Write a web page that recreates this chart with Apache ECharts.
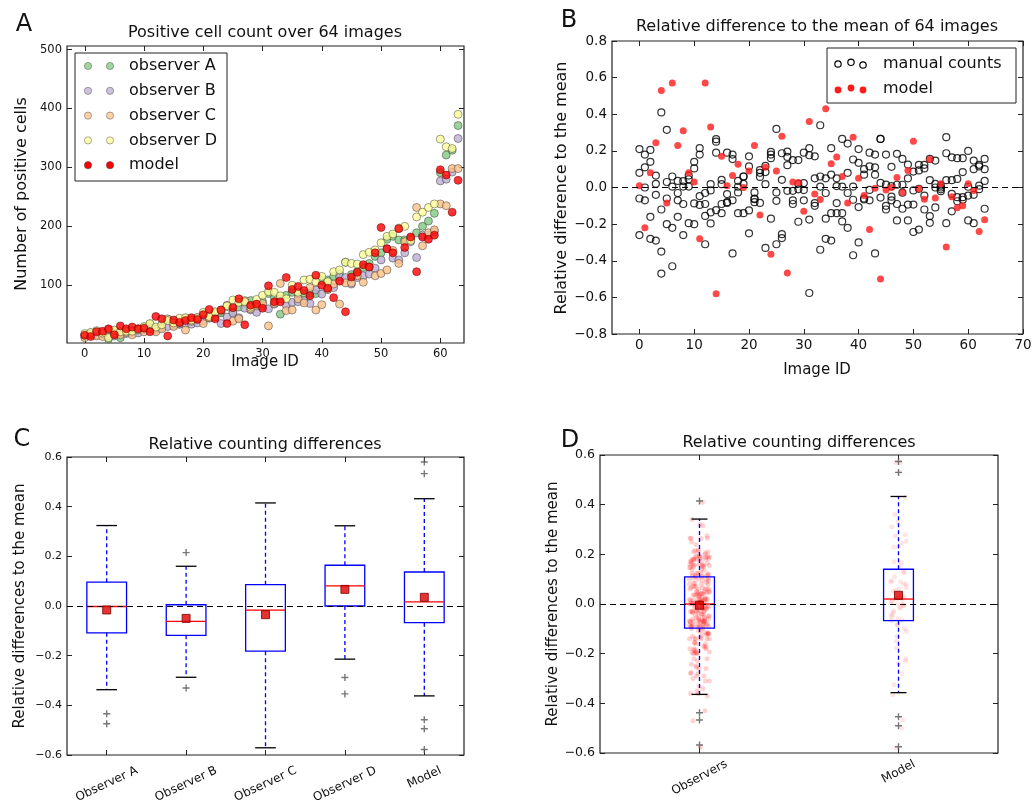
<!DOCTYPE html>
<html><head><meta charset="utf-8">
<script src="https://cdn.jsdelivr.net/npm/echarts@6/dist/echarts.min.js"></script>
<style>html,body{margin:0;padding:0;background:#fff}#chart{width:1036px;height:801px}</style>
</head><body><div id="chart"></div>
<script>
// ---------- Panel A: positive cell counts per image (image ID = index) ----------
const countObsA = [16,19,22,18,9,19,11,20,23,26, 29,34,27,31,42,36,34,44,40,43, 51,45,53,53,64,55,63,70,74,67, 72,86,79,51,83,88,85,86,86,86, 108,109,115,119,139,118,123,130,137,149, 155,178,183,177,177,178,189,200,209,222, 291,321,329,371];
const countObsB = [14,17,16,17,15,14,20,18,20,19, 24,28,25,28,30,32,34,35,34,36, 40,44,46,35,46,53,45,61,58,54, 65,60,68,77,66,71,72,74,69,92, 85,93,96,114,113,102,113,116,119,129, 143,162,146,143,155,174,147,185,185,191, 277,280,292,349];
const countObsC = [11,16,14,13,24,17,16,20,16,24, 21,26,21,26,43,30,36,24,39,45, 35,45,54,56,66,39,43,74,60,65, 69,31,69,103,57,58,77,70,96,58, 67,93,102,68,104,104,116,105,131,116, 120,126,159,137,174,180,232,167,189,194, 238,235,298,298];
const countObsD = [18,20,23,19,11,24,21,22,22,25, 30,35,29,33,40,36,44,45,41,45, 54,47,55,58,65,75,71,72,63,76, 83,89,88,82,77,100,88,109,110,106, 115,106,123,126,139,137,136,152,156,160, 172,183,187,197,200,176,216,224,232,238, 348,335,332,390];
const countModel = [15,13,21,22,26,16,31,26,29,26, 27,21,47,43,14,41,37,40,45,42, 50,59,43,58,35,62,77,33,66,68, 61,99,72,72,113,93,98,91,82,117, 100,95,79,107,55,114,122,135,131,155, 198,162,155,196,164,182,123,182,178,185, 296,287,224,278];

// ---------- Panel B: relative difference to the mean ----------
const relObsA = [0.08,0.11,0.14,0.02,-0.47,0.03,-0.43,-0.03,0.035,0.065, 0.104,0.18,-0.09,-0.016,0.25,0.018,-0.08,0.155,0.004,0.02, 0.115,-0.06,0.058,0.018,0.16,-0.027,0.042,0.122,0.15,0.02, 0.024,0.176,0.05,-0.34,0.05,0.07,0.008,0.005,-0.03,-0.067, 0.135,0.1,0.115,0.11,0.265,0.016,0.007,0.015,0.015,0.05, -0.016,0.093,0.104,0.04,0.02,0.0,0.04,0.04,0.047,0.084, 0.004,0.1,0.115,0.1];
const relObsB = [-0.06,0.0,-0.16,-0.04,-0.12,-0.2,0.005,-0.16,-0.09,-0.195, -0.087,-0.047,-0.155,-0.136,-0.124,-0.09,-0.084,-0.07,-0.14,-0.14, -0.125,-0.08,-0.084,-0.33,-0.17,-0.073,-0.255,-0.018,-0.09,-0.187, -0.07,-0.175,-0.1,0.005,-0.17,-0.14,-0.14,-0.14,-0.22,0.005, -0.107,-0.065,-0.07,0.07,0.025,-0.12,-0.07,-0.09,-0.116,-0.093, -0.093,-0.007,-0.12,-0.156,-0.109,-0.02,-0.195,-0.035,-0.075,-0.067, -0.044,-0.04,-0.009,0.036];
const relObsC = [-0.26,-0.07,-0.28,-0.29,0.41,-0.06,-0.22,-0.07,-0.26,0.005, -0.2,-0.095,-0.31,-0.196,0.264,-0.14,-0.036,-0.36,-0.027,0.06, -0.25,-0.064,0.08,0.084,0.195,-0.31,-0.276,0.196,-0.07,-0.01, -0.014,-0.576,-0.085,0.34,-0.28,-0.29,-0.085,-0.185,0.08,-0.37, -0.3,-0.06,-0.013,-0.36,-0.055,-0.1,-0.05,-0.18,-0.028,-0.18, -0.243,-0.23,-0.044,-0.193,0.0,0.01,0.275,-0.13,-0.053,-0.053, -0.18,-0.195,0.01,-0.116];
const relObsD = [0.21,0.18,0.205,0.065,-0.35,0.315,0.06,0.036,0.005,0.045, 0.14,0.215,-0.03,0.018,0.19,0.042,0.19,0.18,0.036,0.06, 0.17,-0.027,0.095,0.118,0.18,0.32,0.187,0.167,-0.018,0.15, 0.19,0.215,0.17,0.06,-0.03,0.215,0.05,0.265,0.24,0.153, 0.21,0.07,0.19,0.18,0.265,0.18,0.113,0.184,0.156,0.125, 0.087,0.124,0.124,0.156,0.147,-0.01,0.187,0.165,0.16,0.16, 0.2,0.147,0.124,0.156];
const relModel = [0.01,-0.22,0.08,0.245,0.53,-0.085,0.57,0.23,0.31,0.08, 0.03,-0.28,0.57,0.33,-0.58,0.17,0.01,0.065,0.127,0.0, 0.09,0.23,-0.15,0.11,-0.365,0.09,0.28,-0.467,0.03,0.027, -0.13,0.36,-0.035,-0.065,0.43,0.13,0.167,0.06,-0.084,0.275, 0.05,-0.044,-0.23,-0.004,-0.5,-0.013,0.0,0.055,-0.027,0.093, 0.253,-0.007,-0.064,0.153,-0.058,0.02,-0.325,-0.05,-0.11,-0.1, 0.02,-0.016,-0.24,-0.176];

// ---------- Panel C: box statistics [low whisker, Q1, median, Q3, high whisker] ----------
const boxNamesC = ['Observer A','Observer B','Observer C','Observer D','Model'];
const boxStatsC = [[-0.337,-0.108,-0.002,0.096,0.324],[-0.287,-0.118,-0.062,0.005,0.160],[-0.571,-0.182,-0.017,0.086,0.415],[-0.214,0.0,0.081,0.164,0.323],[-0.362,-0.067,0.017,0.137,0.432]];
const meansC = [-0.016,-0.05,-0.035,0.067,0.035];
const outliersC = [[1,-0.434],[1,-0.474],[2,0.215],[2,-0.33],[4,-0.288],[4,-0.354],[5,0.58],[5,0.533],[5,-0.458],[5,-0.494],[5,-0.578]];

// ---------- Panel D ----------
const boxNamesD = ['Observers','Model'];
const boxStatsD = [[-0.364,-0.097,0.0,0.109,0.342],[-0.357,-0.067,0.02,0.14,0.433]];
const meansD = [-0.005,0.035];
const outliersD = [[1,0.415],[1,-0.438],[1,-0.467],[1,-0.568],[2,0.574],[2,0.53],[2,-0.454],[2,-0.49],[2,-0.575]];

// tick values
const ticksAx = [0,10,20,30,40,50,60];
const ticksAy = [100,200,300,400,500];
const ticksBx = [0,10,20,30,40,50,60,70];
const ticksBy = [-0.8,-0.6,-0.4,-0.2,0,0.2,0.4,0.6,0.8];
const ticksCy = [-0.6,-0.4,-0.2,0,0.2,0.4,0.6];

const FONT = 'DejaVu Sans';
const minus = s => String(s).replace('-', '\u2212');
const chart = echarts.init(document.getElementById('chart'), null, {renderer: 'canvas'});

function axis(gridIndex, min, max, ticks, o) {
  o = o || {};
  return {
    type: 'value', gridIndex, min, max, position: o.position,
    axisLine: {show: false, onZero: false},
    splitLine: {show: false},
    axisTick: {show: true, inside: true, length: 5, customValues: ticks, lineStyle: {color: '#222', width: 1}},
    axisLabel: {show: !!o.label, customValues: ticks, fontFamily: FONT, fontSize: o.fs || 12, color: '#111', margin: o.margin || 5,
      formatter: o.fmt || (v => minus(v))}
  };
}
const fmt1 = v => minus(Number(v).toFixed(1));

const xAxes = [
  axis(0, -3, 64, ticksAx, {label: true, fs: 11.5, margin: 5}),
  axis(0, -3, 64, ticksAx, {position: 'top'}),
  axis(1, -5, 70, ticksBx, {label: true, fs: 13.5, margin: 4}),
  axis(1, -5, 70, ticksBx, {position: 'top'}),
  axis(2, 0.5, 5.5, [1,2,3,4,5], {}),
  axis(2, 0.5, 5.5, [1,2,3,4,5], {position: 'top'}),
  axis(3, 0.5, 2.5, [1,2], {}),
  axis(3, 0.5, 2.5, [1,2], {position: 'top'})
];
const yAxes = [
  axis(0, 2, 506, ticksAy, {label: true, fs: 11.5}),
  axis(0, 2, 506, ticksAy, {position: 'right'}),
  axis(1, -0.8, 0.8, ticksBy, {label: true, fs: 13.5, fmt: fmt1}),
  axis(1, -0.8, 0.8, ticksBy, {position: 'right'}),
  axis(2, -0.6, 0.6, ticksCy, {label: true, fs: 11, fmt: fmt1}),
  axis(2, -0.6, 0.6, ticksCy, {position: 'right'}),
  axis(3, -0.6, 0.6, ticksCy, {label: true, fs: 12.5, fmt: fmt1}),
  axis(3, -0.6, 0.6, ticksCy, {position: 'right'})
];

const gridStyle = {show: true, borderColor: '#222', borderWidth: 1.2, backgroundColor: '#fff'};
const grids = [
  Object.assign({left: 67, top: 46, width: 397, height: 297}, gridStyle),
  Object.assign({left: 612, top: 41, width: 411, height: 293}, gridStyle),
  Object.assign({left: 67, top: 457, width: 397, height: 298}, gridStyle),
  Object.assign({left: 600, top: 455, width: 398, height: 298}, gridStyle)
];

const zeroLine = {silent: true, symbol: 'none', label: {show: false}, lineStyle: {color: '#000', type: [6, 4], width: 1.2}, data: [{yAxis: 0}], animation: false};
const plusSym = 'path://M4,0H6V4H10V6H6V10H4V6H0V4H4Z';

function boxRenderer(halfW, capHalf) {
  return function (params, api) {
    const x = api.value(0);
    const lo = api.coord([x, api.value(1)]), q1 = api.coord([x, api.value(2)]), md = api.coord([x, api.value(3)]);
    const q3 = api.coord([x, api.value(4)]), hi = api.coord([x, api.value(5)]);
    const left = api.coord([x - halfW, 0])[0], right = api.coord([x + halfW, 0])[0];
    const cl = api.coord([x - capHalf, 0])[0], cr = api.coord([x + capHalf, 0])[0];
    const cx = lo[0];
    const wh = {stroke: '#0000ff', lineWidth: 1.3, lineDash: [4, 3]};
    const cap = {stroke: '#000', lineWidth: 1.3};
    return {type: 'group', children: [
      {type: 'line', shape: {x1: cx, y1: q3[1], x2: cx, y2: hi[1]}, style: wh},
      {type: 'line', shape: {x1: cx, y1: q1[1], x2: cx, y2: lo[1]}, style: wh},
      {type: 'line', shape: {x1: cl, y1: hi[1], x2: cr, y2: hi[1]}, style: cap},
      {type: 'line', shape: {x1: cl, y1: lo[1], x2: cr, y2: lo[1]}, style: cap},
      {type: 'rect', shape: {x: left, y: q3[1], width: right - left, height: q1[1] - q3[1]}, style: {fill: 'rgba(0,0,0,0)', stroke: '#0000ff', lineWidth: 1.3}},
      {type: 'line', shape: {x1: left, y1: md[1], x2: right, y2: md[1]}, style: {stroke: '#ff0000', lineWidth: 1.3}}
    ]};
  };
}

const obsColors = ['#7fc97f', '#beaed4', '#fdc086', '#ffff99'];
const countSeries = [countObsA, countObsB, countObsC, countObsD].map((arr, k) => ({
  type: 'scatter', name: 'observer ' + 'ABCD'[k], xAxisIndex: 0, yAxisIndex: 0,
  data: arr.map((v, i) => [i, v]), symbolSize: 8,
  itemStyle: {color: obsColors[k], borderColor: '#333', borderWidth: 0.6}
}));
countSeries.push({type: 'scatter', name: 'model', xAxisIndex: 0, yAxisIndex: 0,
  data: countModel.map((v, i) => [i, v]), symbolSize: 8,
  itemStyle: {color: '#ff0000', borderColor: '#550000', borderWidth: 0.6}});

const relObsAll = [relObsA, relObsB, relObsC, relObsD];
const jit = k => (((k * 53) % 41) - 20) / 20 * 0.05;

const series = countSeries.concat([
  {type: 'scatter', name: 'manual counts', xAxisIndex: 2, yAxisIndex: 2,
    data: relObsAll.flatMap(arr => arr.map((v, i) => [i, v])), symbolSize: 7,
    itemStyle: {color: 'rgba(0,0,0,0)', borderColor: '#000', borderWidth: 1.2}, markLine: zeroLine},
  {type: 'scatter', name: 'model rel', xAxisIndex: 2, yAxisIndex: 2,
    data: relModel.map((v, i) => [i, v]), symbolSize: 7,
    itemStyle: {color: '#ff1a1a'}},
  // C
  {type: 'custom', xAxisIndex: 4, yAxisIndex: 4, renderItem: boxRenderer(0.25, 0.13),
    dimensions: ['x', 'lo', 'q1', 'med', 'q3', 'hi'], encode: {x: 0, y: [1, 2, 3, 4, 5]},
    data: boxStatsC.map((s, i) => [i + 1].concat(s)), z: 3},
  {type: 'scatter', xAxisIndex: 4, yAxisIndex: 4, data: outliersC, symbol: plusSym, symbolSize: 7,
    itemStyle: {color: '#555'}, z: 4},
  {type: 'scatter', xAxisIndex: 4, yAxisIndex: 4, data: meansC.map((v, i) => [i + 1, v]), symbol: 'rect', symbolSize: 8,
    itemStyle: {color: '#dd0000', borderColor: '#800000', borderWidth: 1}, markLine: zeroLine, z: 5},
  // D
  {type: 'scatter', xAxisIndex: 6, yAxisIndex: 6,
    data: relObsAll.flat().map((v, k) => [1 + jit(k), v]), symbolSize: 5,
    itemStyle: {color: 'rgba(255,0,0,0.22)'}, z: 2},
  {type: 'scatter', xAxisIndex: 6, yAxisIndex: 6,
    data: relModel.map((v, i) => [2 + 0.8 * jit(i * 3 + 7), v]), symbolSize: 5,
    itemStyle: {color: 'rgba(255,0,0,0.12)'}, z: 2},
  {type: 'custom', xAxisIndex: 6, yAxisIndex: 6, renderItem: boxRenderer(0.075, 0.04),
    dimensions: ['x', 'lo', 'q1', 'med', 'q3', 'hi'], encode: {x: 0, y: [1, 2, 3, 4, 5]},
    data: boxStatsD.map((s, i) => [i + 1].concat(s)), z: 3},
  {type: 'scatter', xAxisIndex: 6, yAxisIndex: 6, data: outliersD, symbol: plusSym, symbolSize: 7,
    itemStyle: {color: '#555'}, z: 4},
  {type: 'scatter', xAxisIndex: 6, yAxisIndex: 6, data: meansD.map((v, i) => [i + 1, v]), symbol: 'rect', symbolSize: 8,
    itemStyle: {color: '#dd0000', borderColor: '#800000', borderWidth: 1}, markLine: zeroLine, z: 5}
]);

chart.setOption({animation: false, grid: grids, xAxis: xAxes, yAxis: yAxes, series: series});

// ---------- texts, legends ----------
function txt(t, x, y, fs, extra) {
  return Object.assign({type: 'text', x, y, z: 100, style: {text: t, fontSize: fs, fontFamily: FONT, fill: '#111', align: 'center', verticalAlign: 'middle'}}, extra || {});
}
const g = [
  txt('A', 24, 25, 24), txt('B', 569, 21, 24), txt('C', 22, 440, 24), txt('D', 570, 441, 24),
  txt('Positive cell count over 64 images', 265, 33, 16),
  txt('Relative difference to the mean of 64 images', 817, 27, 16),
  txt('Relative counting differences', 265, 445, 16),
  txt('Relative counting differences', 799, 443, 16),
  txt('Image ID', 265, 362, 15), txt('Image ID', 817, 370, 15),
  txt('Number of positive cells', 22, 194, 16, {rotation: Math.PI / 2}),
  txt('Relative difference to the mean', 562, 188, 16, {rotation: Math.PI / 2}),
  txt('Relative differences to the mean', 20, 606, 15, {rotation: Math.PI / 2}),
  txt('Relative differences to the mean', 553, 604, 15, {rotation: Math.PI / 2})
];
// legend A
g.push({type: 'rect', z: 99, shape: {x: 75, y: 53, width: 152, height: 128}, style: {fill: '#fff', stroke: '#222', lineWidth: 1}});
const legA = [['observer A', obsColors[0]], ['observer B', obsColors[1]], ['observer C', obsColors[2]], ['observer D', obsColors[3]], ['model', '#ff0000']];
legA.forEach((e, r) => {
  const y = 66 + r * 24.8;
  [88, 110].forEach(x => g.push({type: 'circle', z: 100, shape: {cx: x, cy: y, r: 3.6}, style: {fill: e[1], stroke: '#444', lineWidth: 0.6, opacity: r === 4 ? 1 : 0.75}}));
  g.push(Object.assign(txt(e[0], 129, y, 16), {style: {text: e[0], fontSize: 16, fontFamily: FONT, fill: '#111', align: 'left', verticalAlign: 'middle'}}));
});
// legend B
g.push({type: 'rect', z: 99, shape: {x: 827, y: 48, width: 189, height: 55}, style: {fill: '#fff', stroke: '#222', lineWidth: 1}});
[[838, 64], [851, 62.3], [863, 65]].forEach(p => g.push({type: 'circle', z: 100, shape: {cx: p[0], cy: p[1], r: 3.2}, style: {fill: 'rgba(0,0,0,0)', stroke: '#000', lineWidth: 1.2}}));
[[838, 90], [851, 88], [863, 90]].forEach(p => g.push({type: 'circle', z: 100, shape: {cx: p[0], cy: p[1], r: 3.4}, style: {fill: '#ff1a1a'}}));
g.push({type: 'text', x: 883, y: 64, z: 100, style: {text: 'manual counts', fontSize: 16, fontFamily: FONT, fill: '#111', align: 'left', verticalAlign: 'middle'}});
g.push({type: 'text', x: 883, y: 89, z: 100, style: {text: 'model', fontSize: 16, fontFamily: FONT, fill: '#111', align: 'left', verticalAlign: 'middle'}});

// rotated category labels (matplotlib-like: rotated bbox centred on tick, top at pad below axis)
function rotLabels(xIdx, yIdx, yMin, names, pad, deg, fs) {
  const ctx = document.createElement('canvas').getContext('2d');
  ctx.font = fs + 'px ' + FONT;
  const th = deg * Math.PI / 180;
  const bottom = chart.convertToPixel({yAxisIndex: yIdx}, yMin);
  return names.map((t, k) => {
    const px = chart.convertToPixel({xAxisIndex: xIdx}, k + 1);
    const w = ctx.measureText(t).width, h = fs * 1.1;
    const bh = w * Math.sin(th) + h * Math.cos(th);
    return {type: 'text', x: px, y: bottom + pad + bh / 2, rotation: th, z: 100,
      style: {text: t, fontSize: fs, fontFamily: FONT, fill: '#111', align: 'center', verticalAlign: 'middle'}};
  });
}
const lab = rotLabels(4, 4, -0.6, boxNamesC, 9, 25, 12).concat(rotLabels(6, 6, -0.6, boxNamesD, 4.5, 28, 12));
chart.setOption({graphic: g.concat(lab)});
</script></body></html>
